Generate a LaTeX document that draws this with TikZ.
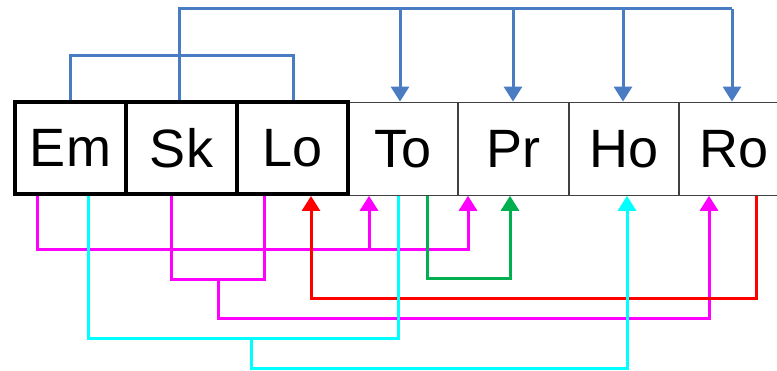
\documentclass[tikz,border=0pt]{standalone}
\usepackage{fontspec}
\setmainfont{Liberation Sans}
\usetikzlibrary{arrows.meta}
\definecolor{cblue}{RGB}{74,124,196}
\definecolor{cmag}{RGB}{255,0,255}
\definecolor{ccyan}{RGB}{0,255,255}
\definecolor{cred}{RGB}{255,0,0}
\definecolor{cgreen}{RGB}{0,176,80}
\tikzset{
  cell/.style={rectangle, minimum width=111pt, minimum height=93pt, inner sep=0pt,
    font=\fontsize{54}{60}\selectfont},
  thincell/.style={cell, draw=black!75, line width=1.2pt},
  thickcell/.style={cell, draw=black, line width=4pt, minimum height=92pt},
  wire/.style={line width=3pt},
  tip/.style={-{Triangle[width=18pt,length=15pt]}}
}
\begin{document}
\begin{tikzpicture}[x=1pt,y=-1pt]
\useasboundingbox (0,0) rectangle (777,371);
\begin{scope}
\clip (0,0) rectangle (777,371);
% thin cells
\node[thincell] (to) at (403,148.7) {To};
\node[thincell] (pr) at (513.5,148.7) {Pr};
\node[thincell] (ho) at (624,148.7) {Ho};
\node[thincell] (ro) at (734.5,148.7) {Ro};
% thick cells
\node[thickcell] (em) at (70.5,148) {Em};
\node[thickcell] (sk) at (181.5,148) {Sk};
\node[thickcell] (lo) at (292.5,148) {Lo};
% levels
\coordinate (yt) at (0,9);
\coordinate (yb) at (0,56);
\coordinate (m1) at (0,250);
\coordinate (m2a) at (0,280);
\coordinate (m2b) at (0,319);
\coordinate (r1) at (0,299);
\coordinate (g1) at (0,279);
\coordinate (c1) at (0,339);
\coordinate (c2) at (0,369);
% attachment points
\coordinate (emT) at ([xshift=-0.5pt]em.north);
\coordinate (skT) at ([xshift=-2.5pt]sk.north);
\coordinate (loT) at ([xshift=0.5pt]lo.north);
\coordinate (toT) at ([xshift=-3pt]to.north);
\coordinate (prT) at ([xshift=-0.5pt]pr.north);
\coordinate (hoT) at ([xshift=-1pt]ho.north);
\coordinate (roT) at ([xshift=-2.5pt]ro.north);
\coordinate (emB1) at ([xshift=-33.5pt]em.south);
\coordinate (emB2) at ([xshift=17.5pt]em.south);
\coordinate (skB) at ([xshift=-10.5pt]sk.south);
\coordinate (loB1) at ([xshift=-28.5pt]lo.south);
\coordinate (loB2) at ([xshift=18.5pt]lo.south);
\coordinate (toB1) at ([xshift=-34pt]to.south);
\coordinate (toB2) at ([xshift=-5pt]to.south);
\coordinate (toB3) at ([xshift=24pt]to.south);
\coordinate (prB1) at ([xshift=-45.5pt]pr.south);
\coordinate (prB2) at ([xshift=-3.5pt]pr.south);
\coordinate (hoB) at ([xshift=3pt]ho.south);
\coordinate (roB1) at ([xshift=-25.5pt]ro.south);
\coordinate (roB2) at ([xshift=21.5pt]ro.south);
\coordinate (mm) at (218,0);
\coordinate (cm) at (251,0);
% blue (top)
\draw[wire, cblue] (emT) -- (emT |- yb) -| (loT);
\draw[wire, cblue] (skT) -- (skT |- yt) -- (roT |- yt);
\draw[wire, cblue, tip] (toT |- yt) -- (toT);
\draw[wire, cblue, tip] (prT |- yt) -- (prT);
\draw[wire, cblue, tip] (hoT |- yt) -- (hoT);
\draw[wire, cblue, tip] (roT |- yt) -- (roT);
% magenta
\draw[wire, cmag, tip] (emB1) -- (emB1 |- m1) -| (prB1);
\draw[wire, cmag, tip] (toB1 |- m1) -- (toB1);
\draw[wire, cmag] (skB) -- (skB |- m2a) -| (loB1);
\draw[wire, cmag, tip] (mm |- m2a) -- (mm |- m2b) -| (roB1);
% red
\draw[wire, cred, tip] (roB2) -- (roB2 |- r1) -| (loB2);
% green
\draw[wire, cgreen, tip] (toB3) -- (toB3 |- g1) -| (prB2);
% cyan
\draw[wire, ccyan] (emB2) -- (emB2 |- c1) -| (toB2);
\draw[wire, ccyan, tip] (cm |- c1) -- (cm |- c2) -| (hoB);
\end{scope}
\end{tikzpicture}
\end{document}
